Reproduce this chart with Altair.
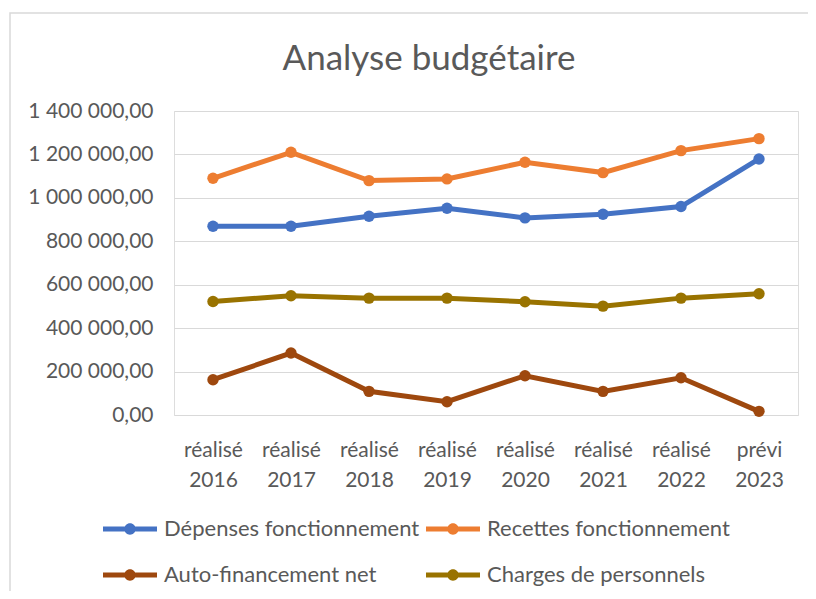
import altair as alt
import pandas as pd

categories = ["réalisé 2016", "réalisé 2017", "réalisé 2018", "réalisé 2019",
              "réalisé 2020", "réalisé 2021", "réalisé 2022", "prévi 2023"]
series_names = ["Dépenses fonctionnement", "Recettes fonctionnement",
                "Auto-financement net", "Charges de personnels"]
depenses = [869400, 869400, 915400, 952200, 907800, 924600, 959900, 1179200]
recettes = [1090250, 1209850, 1079500, 1087200, 1163850, 1116300, 1217500, 1272700]
autofin = [162500, 285200, 108900, 61300, 180900, 108900, 171700, 16900]
charges = [522900, 549000, 538200, 538200, 521400, 501400, 538200, 558200]
colors = ["#4472C4", "#ED7D31", "#9E480E", "#997300"]
y_ticks = [0, 200000, 400000, 600000, 800000, 1000000, 1200000, 1400000]

rows = []
for name, vals in zip(series_names, [depenses, recettes, autofin, charges]):
    for c, v in zip(categories, vals):
        rows.append({"cat": c, "serie": name, "val": v})
df = pd.DataFrame(rows)

# legend fills column by column: order so that rows read Dépenses/Recettes, Auto/Charges
legend_order = [series_names[0], series_names[2], series_names[1], series_names[3]]
legend_colors = [colors[0], colors[2], colors[1], colors[3]]

FONT = "Lato"
TXT = "#595959"

legend_path = ("M-1,-0.09H1V0.09H-1Z "
               "M0.21,0A0.21,0.21 0 1,1 -0.21,0A0.21,0.21 0 1,1 0.21,0Z")

x = alt.X("cat:N", sort=categories, title=None,
          axis=alt.Axis(labelAngle=0, domain=False, ticks=False,
                        labelExpr="split(datum.label, ' ')",
                        labelFontSize=21, labelLineHeight=30, labelPadding=24,
                        labelColor=TXT, labelFont=FONT))
y = alt.Y("val:Q", title=None,
          scale=alt.Scale(domain=[0, 1400000], nice=False),
          axis=alt.Axis(values=y_ticks, format=",.2f", domain=False, ticks=False,
                        gridColor="#D9D9D9", gridWidth=1,
                        labelFontSize=21, labelPadding=21,
                        labelColor=TXT, labelFont=FONT))
color = alt.Color("serie:N", scale=alt.Scale(domain=legend_order, range=legend_colors),
                  sort=legend_order,
                  legend=alt.Legend(title=None, orient="none", legendX=-71, legendY=391,
                                    columns=2, symbolType=legend_path, symbolSize=2916,
                                    symbolStrokeWidth=0, labelFontSize=22,
                                    labelColor=TXT, labelFont=FONT, labelOffset=7,
                                    columnPadding=6, rowPadding=8, labelLimit=400))

base = alt.Chart(df)
lines = base.mark_line(strokeWidth=5).encode(x=x, y=y, color=color)
points = base.mark_point(filled=True, size=130, opacity=1).encode(x=x, y=y, color=color)

frame = alt.Chart(alt.Data(values=[{}])).mark_rect(
    fill=None, stroke="#D9D9D9", strokeWidth=1.5, clip=False
).encode(x=alt.value(-164), x2=alt.value(700), y=alt.value(-98), y2=alt.value(600))

chart = alt.layer(frame, lines, points).properties(
    width=624, height=304,
    title=alt.TitleParams("Analyse budgétaire", fontSize=35, font=FONT, color=TXT,
                          fontWeight="normal", anchor="middle", dx=-57, offset=-93,
                          frame="group", baseline="alphabetic"),
    autosize=alt.AutoSizeParams(type="none"),
    padding={"left": 166, "top": 103, "right": 10, "bottom": 176},
).configure_view(stroke=None).configure(
    locale={"number": {"decimal": ",", "thousands": " ", "grouping": [3],
                       "currency": ["", " €"]}}
)

chart.save("out.html", embed_options={"renderer": "svg", "actions": False})
